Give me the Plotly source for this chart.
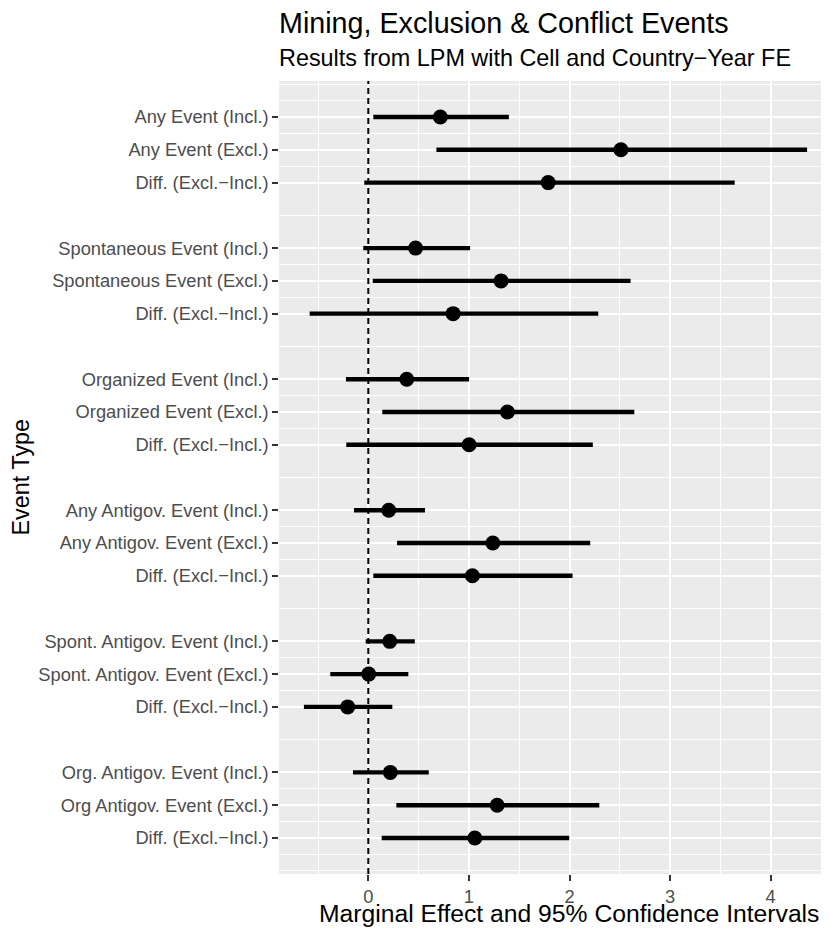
import plotly.graph_objects as go

# ---------------- data ----------------
groups = [
    ["Any Event (Incl.)", "Any Event (Excl.)", "Diff. (Excl.−Incl.)"],
    ["Spontaneous Event (Incl.)", "Spontaneous Event (Excl.)", "Diff. (Excl.−Incl.)"],
    ["Organized Event (Incl.)", "Organized Event (Excl.)", "Diff. (Excl.−Incl.)"],
    ["Any Antigov. Event (Incl.)", "Any Antigov. Event (Excl.)", "Diff. (Excl.−Incl.)"],
    ["Spont. Antigov. Event (Incl.)", "Spont. Antigov. Event (Excl.)", "Diff. (Excl.−Incl.)"],
    ["Org. Antigov. Event (Incl.)", "Org Antigov. Event (Excl.)", "Diff. (Excl.−Incl.)"],
]
estimate = [0.716, 2.511, 1.788, 0.470, 1.320, 0.843, 0.382, 1.383, 1.002,
            0.203, 1.238, 1.035, 0.213, 0.004, -0.205, 0.219, 1.281, 1.059]
ci_low = [0.050, 0.677, -0.040, -0.050, 0.044, -0.583, -0.222, 0.139, -0.219,
          -0.142, 0.286, 0.050, -0.026, -0.378, -0.640, -0.152, 0.279, 0.133]
ci_high = [1.397, 4.362, 3.642, 1.012, 2.607, 2.286, 1.002, 2.644, 2.232,
           0.564, 2.206, 2.030, 0.462, 0.398, 0.239, 0.601, 2.296, 1.997]
x_ticks = [0, 1, 2, 3, 4]

# row positions: 3 rows per group, one empty slot between groups
labels, rows = [], []
for g, grp in enumerate(groups):
    for k, lab in enumerate(grp):
        labels.append(lab)
        rows.append(g * 4 + k)

# ggplot-like minor breaks
ext = [rows[0] - 1] + rows + [rows[-1] + 1]
y_minor = []
for a, b in zip(ext[:-1], ext[1:]):
    y_minor += [a, (a + b) / 2]
y_minor.append(ext[-1])
x_minor = [v - 0.5 for v in x_ticks] + [x_ticks[-1] + 0.5]

err_plus = [h - e for h, e in zip(ci_high, estimate)]
err_minus = [e - l for e, l in zip(estimate, ci_low)]

FONT = "Liberation Sans, Arial, Helvetica, sans-serif"

fig = go.Figure()
fig.add_trace(go.Scatter(
    x=estimate, y=rows, mode="markers",
    marker=dict(color="black", size=15),
    error_x=dict(type="data", symmetric=False, array=err_plus, arrayminus=err_minus,
                 color="black", thickness=4.4, width=0),
    showlegend=False, hoverinfo="x+y",
))

fig.add_shape(type="line", x0=0, x1=0, y0=0, y1=1, xref="x", yref="paper",
              line=dict(color="black", width=2, dash="6px,4px"), layer="above")

# page has an 8px body margin: figure pixel = screen pixel - 8
OFF = 8
W, H = 830, 928
L, R, T, B = 279 - OFF, 0, 81 - OFF, 928 - (874 - OFF)
pw, ph = W - L - R, H - T - B

def px_x(p):
    return (p - OFF - L) / pw

def px_y(p):
    return (H - B - (p - OFF)) / ph

fig.update_layout(
    width=W, height=H,
    margin=dict(l=L, r=R, t=T, b=B, pad=0),
    paper_bgcolor="white", plot_bgcolor="#EBEBEB",
    font=dict(family=FONT, color="black"),
    xaxis=dict(range=[-0.8877, 4.669], tickvals=x_ticks, ticktext=[str(v) for v in x_ticks],
               showgrid=True, gridcolor="white", gridwidth=2.2, zeroline=False,
               ticks="outside", ticklen=5.7, tickwidth=2.2, tickcolor="#333333",
               tickfont=dict(size=18.3, color="#4D4D4D", family=FONT),
               minor=dict(tickvals=x_minor, showgrid=True, gridcolor="white", gridwidth=1.1, ticks=""),
               showline=False, fixedrange=True),
    yaxis=dict(range=[rows[-1] + 1.1, rows[0] - 1.1], tickvals=rows, ticktext=labels,
               showgrid=True, gridcolor="white", gridwidth=2.2, zeroline=False,
               ticks="outside", ticklen=5.7, tickwidth=2.2, tickcolor="#333333",
               tickfont=dict(size=18.3, color="#4D4D4D", family=FONT),
               minor=dict(tickvals=y_minor, showgrid=True, gridcolor="white", gridwidth=1.1, ticks=""),
               showline=False, fixedrange=True),
    annotations=[
        dict(text="Mining, Exclusion & Conflict Events", xref="paper", yref="paper",
             x=px_x(277), y=px_y(23), xanchor="left", yanchor="middle", showarrow=False,
             font=dict(size=28.7, family=FONT, color="black")),
        dict(text="Results from LPM with Cell and Country−Year FE", xref="paper", yref="paper",
             x=px_x(277), y=px_y(58), xanchor="left", yanchor="middle", showarrow=False,
             font=dict(size=23.4, family=FONT, color="black")),
        dict(text="Marginal Effect and 95% Confidence Intervals", xref="paper", yref="paper",
             x=px_x(569), y=px_y(913), xanchor="center", yanchor="middle", showarrow=False,
             font=dict(size=24.7, family=FONT, color="black")),
        dict(text="Event Type", xref="paper", yref="paper", textangle=-90,
             x=px_x(20), y=0.5, xanchor="center", yanchor="middle", showarrow=False,
             font=dict(size=23.4, family=FONT, color="black")),
    ],
)

fig.write_html("out.html")
